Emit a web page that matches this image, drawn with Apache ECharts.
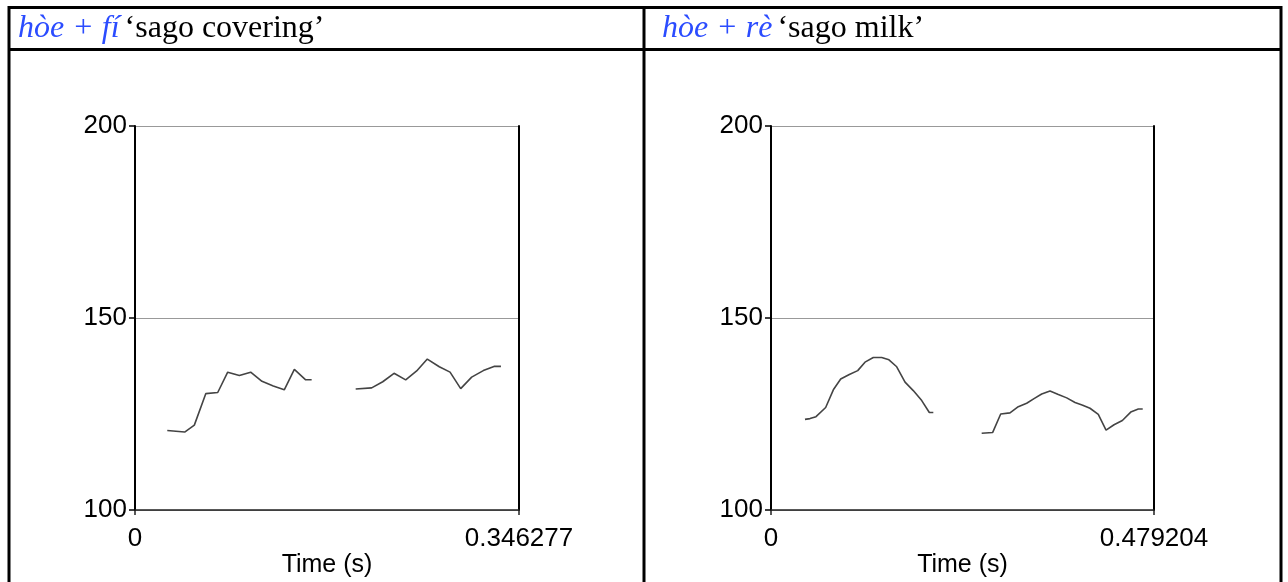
<!DOCTYPE html>
<html>
<head>
<meta charset="utf-8">
<script src="https://cdn.jsdelivr.net/npm/echarts@6/dist/echarts.min.js"></script>
<style>
  html, body { margin: 0; padding: 0; background: #fff; }
  #chart { width: 1288px; height: 582px; }
</style>
</head>
<body>
<div id="chart"></div>
<script>
// ---- Data ----
const panelWords = ['hòe + fí', 'hòe + rè'];
const panelGlosses = ['‘sago covering’', '‘sago milk’'];
const timeMax = [0.346277, 0.479204];
const xTickLabels = [['0', '0.346277'], ['0', '0.479204']];
const yTicks = [100, 150, 200];
const xAxisTitle = 'Time (s)';

// hòe + fí : pitch (Hz) by time (s); null marks a gap
const fiTimes = [0.0291, 0.0448, 0.0535, 0.0638, 0.0746, 0.0836, 0.0941, 0.1043, 0.1145, 0.1247, 0.1346, 0.1437, 0.1539, 0.1593,
                 0.1760,
                 0.1990, 0.2134, 0.2234, 0.2336, 0.2441, 0.2540, 0.2636, 0.2744, 0.2841, 0.2937, 0.3036, 0.3141, 0.3237, 0.3300];
const fiPitch = [120.7, 120.3, 122.1, 130.3, 130.6, 135.9, 135.0, 135.9, 133.5, 132.3, 131.3, 136.6, 133.9, 133.9,
                 null,
                 131.5, 131.8, 133.4, 135.6, 133.9, 136.2, 139.3, 137.3, 135.9, 131.6, 134.6, 136.3, 137.4, 137.4];

// hòe + rè
const reTimes = [0.0425, 0.0488, 0.0563, 0.0684, 0.0780, 0.0872, 0.0980, 0.1085, 0.1176, 0.1280, 0.1385, 0.1476, 0.1573, 0.1677, 0.1780, 0.1886, 0.1981, 0.2031,
                 0.2300,
                 0.2636, 0.2774, 0.2874, 0.2990, 0.3094, 0.3199, 0.3291, 0.3387, 0.3491, 0.3595, 0.3700, 0.3804, 0.3900, 0.3991, 0.4095, 0.4192, 0.4292, 0.4396, 0.4501, 0.4596, 0.4651];
const rePitch = [123.6, 123.8, 124.3, 126.7, 131.3, 134.1, 135.3, 136.3, 138.5, 139.7, 139.7, 139.1, 137.3, 133.3, 131.1, 128.5, 125.4, 125.4,
                 null,
                 120.0, 120.2, 125.0, 125.3, 126.9, 127.8, 129.0, 130.2, 131.0, 130.1, 129.2, 128.0, 127.3, 126.5, 124.9, 120.8, 122.2, 123.3, 125.5, 126.3, 126.3];

const seriesTimes = [fiTimes, reTimes];
const seriesPitch = [fiPitch, rePitch];

// ---- Chart ----
const chart = echarts.init(document.getElementById('chart'), null, { renderer: 'canvas' });

const sans = 'Liberation Sans, Arial, Helvetica, sans-serif';
const serif = 'Liberation Serif, Times New Roman, serif';
const gridPos = [{ left: 135, top: 126, width: 384, height: 384 },
                 { left: 771, top: 126, width: 383, height: 384 }];
const titleLeft = [18, 662];

const grids = [], xAxes = [], yAxes = [], series = [], titles = [];
for (let i = 0; i < 2; i++) {
  grids.push(Object.assign({ containLabel: false, outerBoundsMode: 'none' }, gridPos[i]));
  titles.push({
    text: '{a|' + panelWords[i] + '} {b|' + panelGlosses[i] + '}',
    left: titleLeft[i], top: 13, padding: 0,
    textStyle: {
      fontWeight: 'normal',
      rich: {
        a: { fontFamily: serif, fontStyle: 'italic', fontWeight: 'normal', fontSize: 32, color: '#2B4CFF' },
        b: { fontFamily: serif, fontWeight: 'normal', fontSize: 32, color: '#000' }
      }
    }
  });
  const labels = xTickLabels[i];
  xAxes.push({
    type: 'value', gridIndex: i, min: 0, max: timeMax[i], interval: timeMax[i],
    axisLine: { show: true, lineStyle: { color: '#222', width: 1.5 } },
    axisTick: { show: true, length: 5, lineStyle: { color: '#222', width: 1.5 } },
    axisLabel: {
      show: true, showMinLabel: true, showMaxLabel: true, margin: 16,
      fontFamily: sans, fontSize: 26, color: '#000',
      formatter: v => (v === 0 ? labels[0] : labels[1])
    },
    splitLine: { show: false },
    name: xAxisTitle, nameLocation: 'middle', nameGap: 43, nameMoveOverlap: false,
    nameTextStyle: { fontFamily: sans, fontSize: 25, color: '#000' }
  });
  yAxes.push({
    type: 'value', gridIndex: i, position: 'left', min: yTicks[0], max: yTicks[2], interval: 50,
    axisLine: { show: true, lineStyle: { color: '#000', width: 2 } },
    axisTick: { show: true, length: 6, lineStyle: { color: '#000', width: 1.5 } },
    axisLabel: { show: true, margin: 8, fontFamily: sans, fontSize: 26, color: '#000' },
    splitLine: { show: true, lineStyle: { color: '#999', width: 1.2 } }
  });
  yAxes.push({
    type: 'value', gridIndex: i, position: 'right', min: yTicks[0], max: yTicks[2], interval: 50,
    axisLine: { show: true, lineStyle: { color: '#000', width: 2 } },
    axisTick: { show: false }, axisLabel: { show: false }, splitLine: { show: false }
  });
  const data = seriesTimes[i].map((t, k) => [t, seriesPitch[i][k]]);
  series.push({
    type: 'line', xAxisIndex: i, yAxisIndex: i * 2, data: data,
    showSymbol: false, connectNulls: false, silent: true, animation: false,
    lineStyle: { color: '#444', width: 1.6 }
  });
}

chart.setOption({
  animation: false,
  backgroundColor: '#fff',
  title: titles,
  grid: grids,
  xAxis: xAxes,
  yAxis: yAxes,
  series: series,
  graphic: [
    { type: 'rect', shape: { x: 9, y: 7.5, width: 1272, height: 600 },
      style: { fill: 'none', stroke: '#000', lineWidth: 3 }, silent: true },
    { type: 'line', shape: { x1: 9, y1: 49.5, x2: 1281, y2: 49.5 },
      style: { stroke: '#000', lineWidth: 3 }, silent: true },
    { type: 'line', shape: { x1: 644, y1: 7.5, x2: 644, y2: 600 },
      style: { stroke: '#000', lineWidth: 3 }, silent: true }
  ]
});
</script>
</body>
</html>
